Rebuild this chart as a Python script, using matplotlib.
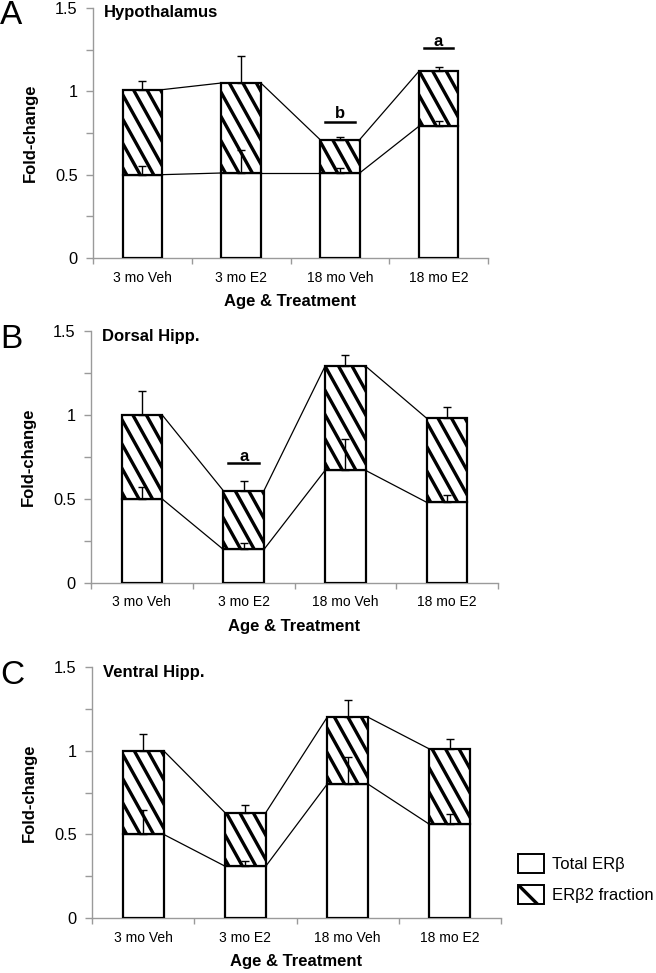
import matplotlib
matplotlib.use('Agg')
import matplotlib.pyplot as plt
from matplotlib.patches import Patch
from matplotlib.lines import Line2D
from matplotlib.transforms import IdentityTransform
import numpy as np

plt.rcParams.update({
    'font.family': ['Liberation Sans', 'DejaVu Sans'],
    'hatch.linewidth': 2.4,
    'hatch.color': 'black',
})

groups = ['3 mo Veh', '3 mo E2', '18 mo Veh', '18 mo E2']

# Hypothalamus
hyp_total = [0.50, 0.51, 0.51, 0.79]
hyp_frac = [0.51, 0.54, 0.20, 0.33]
hyp_total_err = [0.05, 0.14, 0.03, 0.03]
hyp_frac_err = [0.05, 0.16, 0.016, 0.024]

# Dorsal hippocampus
dor_total = [0.50, 0.20, 0.67, 0.48]
dor_frac = [0.50, 0.35, 0.62, 0.50]
dor_total_err = [0.07, 0.04, 0.19, 0.045]
dor_frac_err = [0.14, 0.06, 0.065, 0.067]

# Ventral hippocampus
ven_total = [0.50, 0.31, 0.80, 0.56]
ven_frac = [0.50, 0.32, 0.40, 0.45]
ven_total_err = [0.145, 0.03, 0.16, 0.06]
ven_frac_err = [0.10, 0.045, 0.10, 0.06]

# significance letters: (group index, letter, text y, line y)
hyp_sig = [(2, 'b', 0.864, 0.814), (3, 'a', 1.302, 1.258)]
dor_sig = [(1, 'a', 0.752, 0.713)]
ven_sig = []

panels = [
    ('A', 'Hypothalamus', hyp_total, hyp_frac, hyp_total_err, hyp_frac_err, hyp_sig,
     [93, 8, 488, 258]),
    ('B', 'Dorsal Hipp.', dor_total, dor_frac, dor_total_err, dor_frac_err, dor_sig,
     [91, 331, 498, 583]),
    ('C', 'Ventral Hipp.', ven_total, ven_frac, ven_total_err, ven_frac_err, ven_sig,
     [92, 667, 501, 918]),
]

DPI = 100
W, H = 656, 973
fig = plt.figure(figsize=(W / DPI, H / DPI), dpi=DPI)
width = 0.4
grey = '#9a9a9a'


def hatch_rect(ax, rect, spacing=13.5, slope=1.8, lw=2.4):
    """Steep '\\' hatching drawn in pixel space and clipped to the bar."""
    (x0, y0), (x1, y1) = ax.transData.transform(
        [(rect.get_x(), rect.get_y()),
         (rect.get_x() + rect.get_width(), rect.get_y() + rect.get_height())])
    h = y1 - y0
    run = h / slope
    for c in np.arange(x0 - run - spacing + 4, x1 + spacing, spacing):
        ln = Line2D([c, c + run], [y1, y0], color='black', lw=lw,
                    transform=IdentityTransform(), zorder=3.2)
        ax.add_artist(ln)
        ln.set_clip_path(rect)  # after add_artist, which clips to the axes


for letter, title, total, frac, terr, ferr, sig, (l, t, r, b) in panels:
    ax = fig.add_axes([l / W, 1 - b / H, (r - l) / W, (b - t) / H])
    ax.set_xlim(-0.5, 3.5)
    ax.set_ylim(0, 1.5)
    x = np.arange(len(groups))
    total = np.array(total)
    frac = np.array(frac)
    top = total + frac

    ax.bar(x, total, width, color='white', edgecolor='black', linewidth=1.6, zorder=3)
    hb = ax.bar(x, frac, width, bottom=total, color='white', edgecolor='none', zorder=3)
    for rect in hb:
        hatch_rect(ax, rect)
    ax.bar(x, frac, width, bottom=total, fill=False, edgecolor='black',
           linewidth=1.6, zorder=3.4)

    # error bars (upward only)
    for ys, err in [(total, terr), (top, ferr)]:
        ax.errorbar(x, ys, yerr=[np.zeros(len(x)), err], fmt='none', ecolor='black',
                    elinewidth=1.0, capsize=3, capthick=1.0, zorder=4)

    # connecting lines between bars
    for i in range(len(x) - 1):
        xs = [x[i] + width / 2, x[i + 1] - width / 2]
        ax.plot(xs, [top[i], top[i + 1]], color='black', lw=0.9, zorder=2)
        ax.plot(xs, [total[i], total[i + 1]], color='black', lw=0.9, zorder=2)

    for gi, s, ty, ly in sig:
        ax.text(gi, ty, s, ha='center', va='center', fontsize=12, fontweight='bold')
        ax.plot([gi - 0.15, gi + 0.15], [ly, ly], color='black', lw=1.8)

    ax.set_yticks([0, 0.5, 1, 1.5])
    ax.set_yticklabels(['0', '0.5', '1', '1.5'], fontsize=11.8)
    ax.set_yticks([0.25, 0.75, 1.25], minor=True)
    ax.set_xticks(x)
    ax.set_xticklabels(groups, fontsize=10)
    ax.set_xticks(np.arange(-0.5, 4, 1), minor=True)
    ax.tick_params(axis='x', which='major', length=0, pad=9)
    ax.tick_params(axis='x', which='minor', length=4, width=1, color=grey, direction='out')
    ax.tick_params(axis='y', which='both', length=5, width=1, color=grey,
                   direction='out', pad=6)
    for side in ['top', 'right']:
        ax.spines[side].set_visible(False)
    for side in ['left', 'bottom']:
        ax.spines[side].set_color(grey)
        ax.spines[side].set_linewidth(1.0)

    ax.set_ylabel('Fold-change', fontsize=12, fontweight='bold', labelpad=12)
    ax.set_xlabel('Age & Treatment', fontsize=12, fontweight='bold', labelpad=7)
    ax.text(0.028, 0.98, title, transform=ax.transAxes, ha='left', va='center',
            fontsize=12, fontweight='bold')

    fig.text(0, 1 - (t + 8) / H, letter, fontsize=24, ha='left', va='center')

handles = [Patch(facecolor='white', edgecolor='black', linewidth=1.4, label='Total ER\u03b2'),
           Patch(facecolor='white', edgecolor='black', linewidth=1.4, hatch='\\',
                 label='ER\u03b22 fraction')]
fig.legend(handles=handles, loc='upper left', bbox_to_anchor=(518 / W, 1 - 854 / H),
           frameon=False, fontsize=12, handlelength=1.56, handleheight=1.36,
           labelspacing=0.74, handletextpad=0.45, borderpad=0, borderaxespad=0)

fig.savefig('out.png', dpi=DPI)
